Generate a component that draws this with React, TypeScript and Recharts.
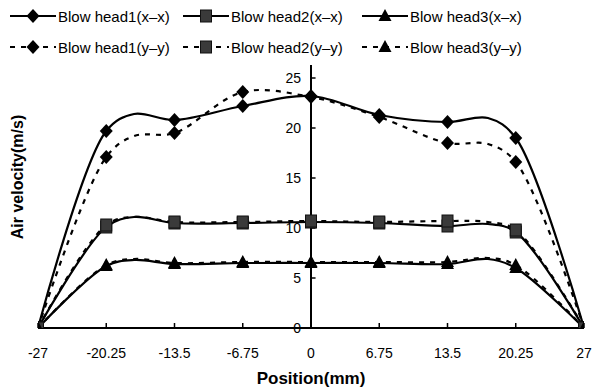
import React from 'react';
import { LineChart, Line, XAxis, YAxis, ReferenceLine, Label } from 'recharts';

// ---- data ----
const positions = [-27, -20.25, -17.5, -13.5, -6.75, 0, 6.75, 13.5, 17.5, 20.25, 27];
const markerPositions = [-27, -20.25, -13.5, -6.75, 0, 6.75, 13.5, 20.25, 27];
const head1xx = [0, 19.7, 21.4, 20.8, 22.2, 23.2, 21.3, 20.6, 21.0, 19.0, 0];
const head1yy = [0, 17.1, 19.2, 19.5, 23.6, 23.1, 21.1, 18.5, 18.4, 16.6, 0];
const head2xx = [0, 10.1, 11.1, 10.5, 10.5, 10.6, 10.5, 10.2, 10.4, 9.6, 0];
const head2yy = [0, 10.3, 11.1, 10.6, 10.6, 10.7, 10.6, 10.7, 10.6, 9.8, 0];
const head3xx = [0, 6.2, 6.8, 6.4, 6.5, 6.5, 6.5, 6.4, 6.9, 6.0, 0];
const head3yy = [0, 6.3, 6.9, 6.5, 6.6, 6.6, 6.6, 6.6, 7.0, 6.3, 0];
const xTicks = [-27, -20.25, -13.5, -6.75, 0, 6.75, 13.5, 20.25, 27];
const xTickLabels = ['-27', '-20.25', '-13.5', '-6.75', '0', '6.75', '13.5', '20.25', '27'];
const yTicks = [0, 5, 10, 15, 20, 25];
const seriesNames = [
  'Blow head1(x\u2013x)',
  'Blow head2(x\u2013x)',
  'Blow head3(x\u2013x)',
  'Blow head1(y\u2013y)',
  'Blow head2(y\u2013y)',
  'Blow head3(y\u2013y)',
];

const data = positions.map((x, i) => ({
  x,
  h1x: head1xx[i],
  h2x: head2xx[i],
  h3x: head3xx[i],
  h1y: head1yy[i],
  h2y: head2yy[i],
  h3y: head3yy[i],
}));

// ---- styles ----
const FONT = 'Liberation Sans, Arial, sans-serif';
const DASH = '5 6';

type Shape = 'diamond' | 'square' | 'triangle';

const series: { key: string; name: string; shape: Shape; dashed: boolean }[] = [
  { key: 'h1x', name: seriesNames[0], shape: 'diamond', dashed: false },
  { key: 'h2x', name: seriesNames[1], shape: 'square', dashed: false },
  { key: 'h3x', name: seriesNames[2], shape: 'triangle', dashed: false },
  { key: 'h1y', name: seriesNames[3], shape: 'diamond', dashed: true },
  { key: 'h2y', name: seriesNames[4], shape: 'square', dashed: true },
  { key: 'h3y', name: seriesNames[5], shape: 'triangle', dashed: true },
];

function Marker({ shape, cx, cy }: { shape: Shape; cx: number; cy: number }) {
  if (shape === 'diamond') {
    return (
      <polygon
        points={`${cx},${cy - 7} ${cx + 6.5},${cy} ${cx},${cy + 7} ${cx - 6.5},${cy}`}
        fill="#000"
      />
    );
  }
  if (shape === 'square') {
    return (
      <rect x={cx - 5.5} y={cy - 6} width={11} height={12} fill="#3a3a3a" stroke="#111" strokeWidth={1} />
    );
  }
  return (
    <polygon
      points={`${cx},${cy - 7} ${cx + 6.5},${cy + 5} ${cx - 6.5},${cy + 5}`}
      fill="#000"
    />
  );
}

const makeDot = (shape: Shape) => (props: any) => {
  const { cx, cy, payload, index } = props;
  if (!markerPositions.includes(payload.x) || cx == null || cy == null) {
    return <g key={`n${index}`} />;
  }
  return (
    <g key={`d${index}`}>
      <Marker shape={shape} cx={cx} cy={cy} />
    </g>
  );
};

// Smoothed line: centripetal Catmull-Rom (alpha 0.5), like Excel's smoothed lines
function smoothCurve(context: any) {
  let pts: [number, number][] = [];
  const alpha = 0.5;
  const EPS = 1e-12;
  return {
    areaStart() {},
    areaEnd() {},
    lineStart() {
      pts = [];
    },
    point(x: number, y: number) {
      pts.push([+x, +y]);
    },
    lineEnd() {
      if (!pts.length) return;
      context.moveTo(pts[0][0], pts[0][1]);
      const dist = (a: [number, number], b: [number, number]) =>
        Math.hypot(a[0] - b[0], a[1] - b[1]);
      for (let i = 0; i < pts.length - 1; i++) {
        const p1 = pts[i];
        const p2 = pts[i + 1];
        const p0 = i > 0 ? pts[i - 1] : p1;
        const p3 = i + 2 < pts.length ? pts[i + 2] : p2;
        const l01 = dist(p0, p1);
        const l12 = dist(p1, p2);
        const l23 = dist(p2, p3);
        const l01a = Math.pow(l01, alpha);
        const l01_2a = Math.pow(l01, 2 * alpha);
        const l12a = Math.pow(l12, alpha);
        const l12_2a = Math.pow(l12, 2 * alpha);
        const l23a = Math.pow(l23, alpha);
        const l23_2a = Math.pow(l23, 2 * alpha);
        let c1x = p1[0];
        let c1y = p1[1];
        let c2x = p2[0];
        let c2y = p2[1];
        if (l01a > EPS) {
          const a = 2 * l01_2a + 3 * l01a * l12a + l12_2a;
          const n = 3 * l01a * (l01a + l12a);
          c1x = (p1[0] * a - p0[0] * l12_2a + p2[0] * l01_2a) / n;
          c1y = (p1[1] * a - p0[1] * l12_2a + p2[1] * l01_2a) / n;
        }
        if (l23a > EPS) {
          const b = 2 * l23_2a + 3 * l23a * l12a + l12_2a;
          const m = 3 * l23a * (l23a + l12a);
          c2x = (p2[0] * b + p1[0] * l23_2a - p3[0] * l12_2a) / m;
          c2y = (p2[1] * b + p1[1] * l23_2a - p3[1] * l12_2a) / m;
        }
        context.bezierCurveTo(c1x, c1y, c2x, c2y, p2[0], p2[1]);
      }
    },
  };
}

const XTick = (props: any) => {
  const { x, y, payload } = props;
  const i = xTicks.indexOf(payload.value);
  return (
    <g>
      <line x1={x} x2={x} y1={y} y2={y - 5} stroke="#000" strokeWidth={1.5} />
      <text x={x} y={y + 30} textAnchor="middle" fontSize={14} fontFamily={FONT} fill="#000">
        {xTickLabels[i]}
      </text>
    </g>
  );
};

const YTitle = (props: any) => {
  const vb = props.viewBox || { x: 0, y: 0 };
  const cx = vb.x + 17;
  const cy = 177;
  return (
    <text
      x={cx}
      y={cy}
      transform={`rotate(-90, ${cx}, ${cy})`}
      textAnchor="middle"
      dominantBaseline="central"
      fontSize={16}
      fontWeight="bold"
      fontFamily={FONT}
      fill="#000"
    >
      Air velocity(m/s)
    </text>
  );
};

function LegendOverlay() {
  const cols = [10, 183, 362];
  const rows = [16, 47];
  return (
    <svg width={600} height={64} style={{ position: 'absolute', left: 0, top: 0 }}>
      {series.map((s, i) => {
        const col = i % 3;
        const row = Math.floor(i / 3);
        const x0 = cols[col];
        const y = rows[row];
        return (
          <g key={s.key}>
            <line
              x1={x0}
              x2={x0 + 46}
              y1={y}
              y2={y}
              stroke="#000"
              strokeWidth={2.2}
              strokeDasharray={s.dashed ? DASH : undefined}
            />
            <Marker shape={s.shape} cx={x0 + 23} cy={y} />
            <text x={x0 + 48} y={y + 5.5} fontSize={15} fontFamily={FONT} fill="#000">
              {s.name}
            </text>
          </g>
        );
      })}
    </svg>
  );
}

export default function App() {
  return (
    <div style={{ position: 'absolute', left: 0, top: 0, width: 600, height: 392, background: '#fff' }}>
      <LineChart
        width={600}
        height={392}
        data={data}
        margin={{ top: 65, right: 16, bottom: 0, left: 0 }}
        style={{ fontFamily: FONT }}
      >
        <XAxis
          dataKey="x"
          type="number"
          domain={[-27, 27]}
          ticks={xTicks}
          interval={0}
          tick={<XTick />}
          tickLine={false}
          tickSize={0}
          tickMargin={0}
          axisLine={{ stroke: '#000', strokeWidth: 2 }}
          height={64}
          allowDataOverflow
        >
          <Label
            value="Position(mm)"
            position="insideBottom"
            offset={8}
            style={{ fontSize: 17, fontWeight: 'bold', fontFamily: FONT, fill: '#000' }}
          />
        </XAxis>
        <YAxis
          type="number"
          domain={[0, 26.3]}
          ticks={yTicks}
          tick={false}
          tickLine={false}
          axisLine={false}
          width={38}
          allowDataOverflow
        >
          <Label content={<YTitle />} />
        </YAxis>
        <ReferenceLine x={0} stroke="#000" strokeWidth={2} />
        {yTicks.map((v) => (
          <ReferenceLine
            key={`yt${v}`}
            segment={[
              { x: 0, y: v },
              { x: 0.45, y: v },
            ]}
            stroke="#000"
            strokeWidth={1.5}
            label={{
              value: String(v),
              position: 'left',
              offset: 10,
              fill: '#000',
              fontSize: 14,
              fontFamily: FONT,
            }}
          />
        ))}
        {series.map((s) => (
          <Line
            key={s.key}
            dataKey={s.key}
            name={s.name}
            type={smoothCurve as any}
            stroke="#000"
            strokeWidth={2.2}
            strokeDasharray={s.dashed ? DASH : undefined}
            dot={makeDot(s.shape)}
            activeDot={false}
            isAnimationActive={false}
          />
        ))}
      </LineChart>
      <LegendOverlay />
    </div>
  );
}
